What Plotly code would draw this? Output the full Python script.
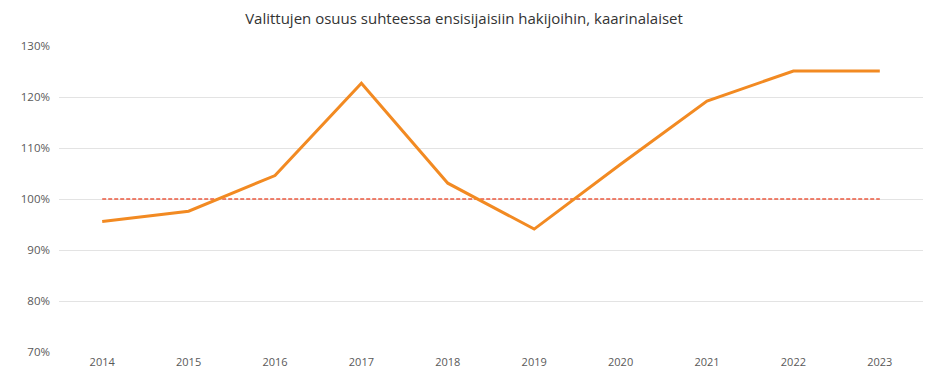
import plotly.graph_objects as go

years = ["2014", "2015", "2016", "2017", "2018", "2019", "2020", "2021", "2022", "2023"]
share = [0.956, 0.976, 1.046, 1.227, 1.031, 0.941, 1.068, 1.192, 1.251, 1.251]
reference = [1.0] * len(years)
y_ticks = [0.7, 0.8, 0.9, 1.0, 1.1, 1.2, 1.3]

font_family = "'Open Sans', 'Noto Sans', sans-serif"

fig = go.Figure()
fig.add_trace(go.Scatter(
    x=years, y=reference, mode="lines",
    line=dict(color="#ec5a40", width=1.4, dash="4px,2px"),
    hoverinfo="skip", showlegend=False,
))
fig.add_trace(go.Scatter(
    x=years, y=share, mode="lines",
    line=dict(color="#f28a22", width=3),
    showlegend=False,
))

fig.update_layout(
    width=928, height=369,
    margin=dict(l=59, r=5, t=46, b=17),
    paper_bgcolor="white", plot_bgcolor="white",
    font=dict(family=font_family, color="#595959", size=11),
    title=dict(
        text="Valittujen osuus suhteessa ensisijaisiin hakijoihin, kaarinalaiset",
        x=0.5, xanchor="center", y=0.95, yanchor="middle",
        font=dict(family=font_family, size=15, color="#333333"),
    ),
)
fig.update_xaxes(
    type="category", range=[-0.5, len(years) - 0.5], automargin=False,
    showgrid=False, zeroline=False, showline=False,
    ticks="", ticklabelstandoff=2, tickfont=dict(size=11, color="#595959"),
)
fig.update_yaxes(
    range=[0.7, 1.3], tickvals=y_ticks, tickformat=".0%", automargin=False,
    showgrid=True, gridcolor="#e3e3e3", gridwidth=1, zeroline=False,
    showline=False, ticks="", ticklabelstandoff=8,
    tickfont=dict(size=11.5, color="#595959"),
)

fig.write_html("out.html")
